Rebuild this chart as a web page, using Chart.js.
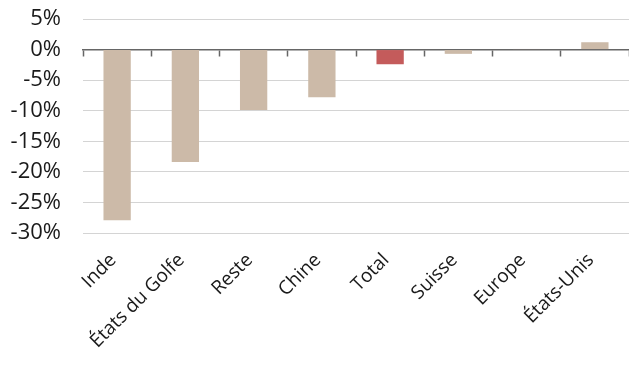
<!DOCTYPE html>
<html>
<head>
<meta charset="utf-8">
<script src="https://cdn.jsdelivr.net/npm/chart.js@4"></script>
<style>
  html, body { margin: 0; padding: 0; background: #fff; }
  #wrap { width: 629px; height: 365px; position: relative; }
</style>
</head>
<body>
<div id="wrap"><canvas id="chart"></canvas></div>
<script>
// data
const categories = ['Inde', 'États du Golfe', 'Reste', 'Chine', 'Total', 'Suisse', 'Europe', 'États-Unis'];
const changes = [-27.9, -18.4, -9.9, -7.8, -2.4, -0.7, 0.1, 1.2];
const yTicks = [5, 0, -5, -10, -15, -20, -25, -30];

const TAN = '#ccbaa8';
const RED = '#c45b5b';
const FONT = '"Open Sans", "Noto Sans", sans-serif';

const barColors = categories.map(c => c === 'Total' ? RED : TAN);

new Chart(document.getElementById('chart'), {
    type: 'bar',
    data: {
        labels: categories,
        datasets: [{
            data: changes,
            backgroundColor: barColors,
            borderWidth: 0,
            barPercentage: 0.4,
            categoryPercentage: 1.0
        }]
    },
    options: {
        responsive: true,
        maintainAspectRatio: false,
        animation: false,
        layout: { padding: { top: 19, right: 0, bottom: 0, left: 0 } },
        plugins: { legend: { display: false }, tooltip: { enabled: false } },
        scales: {
            // labels at the bottom
            x: {
                type: 'category',
                position: 'bottom',
                grid: { display: false },
                border: { display: false },
                ticks: {
                    minRotation: 45,
                    maxRotation: 45,
                    autoSkip: false,
                    padding: 8,
                    labelOffset: -4,
                    color: '#1a1a1a',
                    font: { family: FONT, size: 19 }
                },
                afterFit(scale) {
                    scale.height = 132;
                    scale.paddingLeft = 0;
                    scale.paddingRight = 0;
                }
            },
            // zero line with tick marks between categories
            x0: {
                type: 'category',
                labels: categories,
                position: { y: 0 },
                offset: true,
                z: 1,
                grid: {
                    offset: true,
                    drawOnChartArea: false,
                    drawTicks: true,
                    tickLength: 6,
                    tickWidth: 1.5,
                    tickColor: '#666'
                },
                border: { display: true, color: '#666', width: 1.5 },
                ticks: { display: false },
                afterFit(scale) {
                    scale.height = 0;
                    scale.paddingLeft = 0;
                    scale.paddingRight = 0;
                }
            },
            y: {
                min: -30,
                max: 5,
                afterBuildTicks(scale) {
                    scale.ticks = yTicks.map(v => ({ value: v }));
                },
                grid: {
                    color: ctx => ctx.tick && ctx.tick.value === 0 ? 'rgba(0,0,0,0)' : '#d4d4d4',
                    lineWidth: 1,
                    drawTicks: false
                },
                border: { display: false },
                ticks: {
                    autoSkip: false,
                    padding: 22,
                    color: '#1a1a1a',
                    font: { family: FONT, size: 22 },
                    callback: v => v + '%'
                },
                afterFit(scale) {
                    scale.width = 83;
                    scale.paddingTop = 0;
                    scale.paddingBottom = 0;
                }
            }
        }
    }
});
</script>
</body>
</html>
